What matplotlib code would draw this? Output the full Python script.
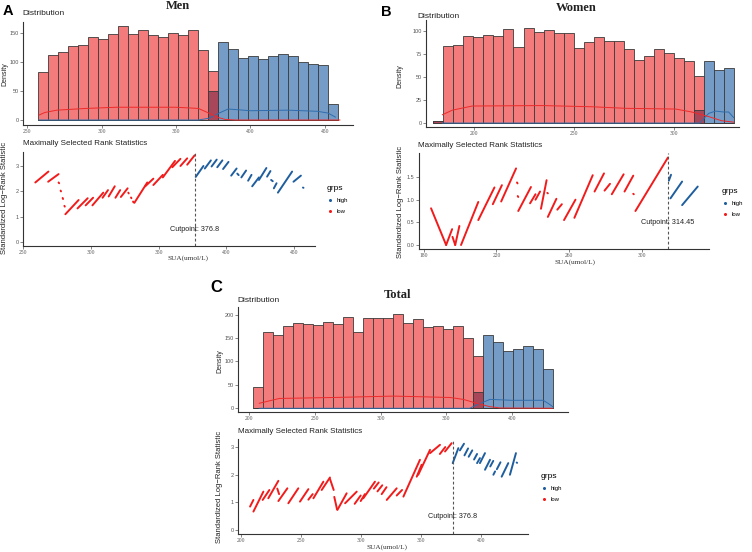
import numpy as np
import matplotlib
matplotlib.use("Agg")
import matplotlib.pyplot as plt
from matplotlib.lines import Line2D

# ---------------- data ----------------
# histograms: 30 bins each (start, width), counts for the low / high groups
men_bin_start, men_bin_width = 257.1, 6.73
men_low = [83, 112, 118, 127, 129, 143, 140, 148, 162, 149, 156, 146, 143, 150, 147,
           155, 120, 84, 0, 0, 0, 0, 0, 0, 0, 0, 0, 0, 0, 0]
men_high = [0, 0, 0, 0, 0, 0, 0, 0, 0, 0, 0, 0, 0, 0, 0,
            0, 0, 50, 134, 122, 107, 111, 106, 111, 113, 111, 100, 96, 95, 28]

women_bin_start, women_bin_width = 179.5, 5.02
women_low = [2, 84, 85, 95, 93, 96, 95, 102, 83, 103, 99, 101, 98, 98, 82,
             88, 94, 89, 89, 81, 69, 73, 80, 76, 71, 67, 51, 0, 0, 0]
women_high = [2, 0, 0, 0, 0, 0, 0, 0, 0, 0, 0, 0, 0, 0, 0,
              0, 0, 0, 0, 0, 0, 0, 0, 0, 0, 0, 14, 67, 58, 60]

total_bin_start, total_bin_width = 202.5, 7.63
total_low = [46, 162, 156, 176, 182, 180, 178, 184, 180, 195, 162, 192, 192, 192, 201,
             182, 190, 174, 175, 169, 176, 149, 111, 0, 0, 0, 0, 0, 0, 0]
total_high = [0, 0, 0, 0, 0, 0, 0, 0, 0, 0, 0, 0, 0, 0, 0,
              0, 0, 0, 0, 0, 0, 0, 35, 156, 141, 122, 126, 132, 127, 84]

# density curves (x, y)
men_dens_low_x = [258, 262, 270, 290, 310, 330, 350, 365, 372, 378, 383, 390, 460]
men_dens_low_y = [8.5, 13, 17, 20, 22, 22, 22, 20, 12, 4.6, 1, 0, 0]
men_dens_high_x = [258, 365, 372, 379, 385, 400, 425, 445, 452, 457]
men_dens_high_y = [0, 0, 3, 12, 19, 16, 17, 15, 12, 5]

women_dens_low_x = [184, 189, 199, 234, 259, 276, 301, 309, 317.5, 324, 330]
women_dens_low_y = [9, 14, 18.5, 19, 17.7, 16, 15.2, 12, 7, 2.5, 1]
women_dens_high_x = [184, 313, 317.5, 321, 325, 327.5, 330]
women_dens_high_y = [0, 0, 10.5, 13, 12, 12, 6]

total_dens_low_x = [207.6, 223, 264, 310, 353, 363, 373, 383, 391, 431]
total_dens_low_y = [10.7, 21, 23, 26, 23, 19, 11, 3.6, 0.7, 0]
total_dens_high_x = [207.6, 368, 374, 383.5, 400, 424, 428, 431.5]
total_dens_high_y = [0, 0, 8, 19, 17, 17, 10, 3]

# maximally selected rank statistics: runs of points (x0, x1, y0, y1)
men_low_runs = [(258.8, 268.5, 2.35, 2.78), (268.3, 276.0, 2.38, 2.68), (276.0, 276.4, 2.35, 2.32),
                (277.5, 277.8, 2.03, 2.00), (279.0, 279.3, 1.74, 1.70), (280.3, 280.6, 1.43, 1.40),
                (281.0, 290.8, 1.10, 1.66), (290.0, 297.5, 1.33, 1.73), (296.0, 301.5, 1.45, 1.75),
                (301.0, 309.0, 1.45, 1.95), (308.5, 312.5, 1.75, 2.05), (313.0, 317.5, 1.80, 2.20),
                (318.0, 321.5, 1.75, 2.05), (322.0, 327.0, 1.78, 2.12), (327.5, 327.8, 1.95, 1.92),
                (329.5, 329.8, 1.76, 1.73), (331.0, 331.3, 1.60, 1.57), (332.0, 341.5, 1.55, 2.35),
                (340.0, 346.0, 2.20, 2.50), (346.0, 353.0, 2.25, 2.65), (353.0, 362.0, 2.55, 3.20),
                (360.0, 366.0, 2.95, 3.28), (366.0, 371.0, 3.00, 3.30), (371.0, 376.5, 3.05, 3.42)]
men_high_runs = [(377.3, 383.0, 2.57, 3.00), (384.0, 388.5, 2.90, 3.22), (389.0, 392.8, 2.98, 3.25),
                 (393.2, 397.0, 2.95, 3.22), (397.5, 401.5, 2.88, 3.16), (403.5, 407.5, 2.62, 2.90),
                 (408.0, 409.0, 2.70, 2.64), (411.0, 414.5, 2.55, 2.82), (416.0, 418.5, 2.42, 2.65),
                 (419.0, 424.0, 2.20, 2.55), (424.0, 429.5, 2.45, 2.92), (430.0, 432.5, 2.58, 2.80),
                 (433.0, 434.2, 2.45, 2.40), (435.0, 437.0, 2.12, 2.32), (438.0, 448.5, 1.95, 2.78),
                 (449.5, 455.0, 2.38, 2.62), (456.5, 456.9, 2.15, 2.14)]

women_low_runs = [(184.0, 192.3, 0.81, 0.00), (192.3, 195.6, 0.00, 0.35), (195.8, 197.3, 0.18, 0.00),
                  (197.3, 199.6, 0.00, 0.42), (200.5, 210.0, 0.00, 0.95), (210.0, 218.9, 0.55, 1.27),
                  (218.0, 223.0, 0.90, 1.32), (222.6, 230.8, 0.96, 1.69), (231.3, 231.6, 1.38, 1.36),
                  (231.7, 232.0, 1.08, 1.06), (232.0, 239.0, 0.75, 1.28), (238.5, 241.5, 0.92, 1.12),
                  (241.5, 244.0, 1.00, 1.18), (244.5, 247.6, 0.80, 1.43), (248.0, 248.3, 1.15, 1.14),
                  (248.3, 253.0, 0.62, 1.02), (253.5, 256.0, 0.78, 0.90), (257.2, 263.5, 0.55, 1.00),
                  (262.9, 273.0, 0.60, 1.54), (274.0, 279.2, 1.18, 1.58), (279.5, 282.5, 1.20, 1.35),
                  (283.5, 290.0, 1.12, 1.56), (290.5, 295.3, 1.18, 1.53), (295.3, 295.6, 1.13, 1.12),
                  (296.5, 314.4, 0.75, 1.93)]
women_high_runs = [(314.9, 316.1, 1.42, 1.55), (315.8, 322.2, 1.03, 1.40), (322.2, 330.8, 0.88, 1.29)]

total_low_runs = [(207.8, 210.6, 0.85, 1.09), (210.6, 218.9, 0.67, 1.39), (218.3, 223.9, 1.09, 1.45),
                  (223.0, 231.4, 1.15, 1.78), (230.5, 232.0, 1.50, 1.30), (231.4, 238.9, 1.05, 1.51),
                  (239.7, 248.0, 0.97, 1.51), (249.4, 256.4, 1.03, 1.48), (256.4, 260.0, 1.10, 1.30),
                  (260.6, 268.9, 1.15, 1.75), (267.5, 274.4, 1.45, 1.90), (274.4, 277.5, 1.85, 1.45),
                  (278.0, 280.3, 1.20, 0.75), (280.6, 288.3, 0.73, 1.33), (287.0, 296.7, 0.97, 1.39),
                  (295.0, 300.0, 0.95, 1.25), (300.0, 303.5, 1.05, 1.30), (302.2, 311.9, 1.15, 1.75),
                  (311.0, 315.0, 1.50, 1.72), (314.0, 318.0, 1.40, 1.62), (317.5, 321.5, 1.30, 1.55),
                  (321.7, 330.0, 1.09, 1.51), (330.0, 334.5, 1.25, 1.45), (335.6, 349.4, 1.21, 2.54),
                  (346.7, 350.8, 1.93, 2.36), (348.0, 357.8, 2.00, 2.90), (357.8, 366.1, 2.78, 3.08),
                  (366.0, 370.5, 2.75, 3.00), (370.3, 375.8, 2.84, 3.14)]
total_high_runs = [(376.7, 381.4, 2.42, 2.96), (382.7, 386.1, 2.88, 3.12), (386.5, 389.5, 2.70, 2.95),
                   (390.0, 393.0, 2.65, 2.88), (394.5, 397.0, 2.55, 2.75), (397.0, 399.4, 2.42, 2.60),
                   (399.4, 403.6, 2.42, 2.78), (403.6, 407.8, 2.18, 2.54), (408.0, 410.5, 2.30, 2.50),
                   (410.6, 412.0, 2.00, 2.12), (413.5, 416.5, 2.20, 2.45), (417.5, 423.0, 1.93, 2.42),
                   (424.4, 429.4, 2.00, 2.78), (430.0, 430.4, 2.44, 2.43)]

cutpoints = {"men": 376.8, "women": 314.45, "total": 376.8}

# ---------------- style ----------------
W, H = 752, 552
SANS = "Liberation Sans"
SERIF = "Liberation Serif"
RED_FILL, BLUE_FILL, MIX_FILL = "#F37B7B", "#759CC6", "#A8465A"
EDGE = "#3a3a3a"
RED_LINE, BLUE_LINE = "#EE2A2A", "#2F6DAD"
RED_PT, BLUE_PT = "#F21B1B", "#1F5E9E"

fig = plt.figure(figsize=(W / 100, H / 100), dpi=100)


def px_axes(l, t, r, b):
    return fig.add_axes([l / W, 1 - b / H, (r - l) / W, (b - t) / H])


def ftext(x, y, s, **kw):
    fig.text(x / W, 1 - y / H, s, **kw)


def style_axes(ax, xticks, yticks, yfmt="{:g}"):
    for s in ["top", "right"]:
        ax.spines[s].set_visible(False)
    for s in ["left", "bottom"]:
        ax.spines[s].set_color("#333333")
        ax.spines[s].set_linewidth(0.8)
    ax.set_xticks(xticks)
    ax.set_yticks(yticks)
    ax.set_yticklabels([yfmt.format(v) for v in yticks])
    ax.tick_params(length=2, width=0.5, colors="#555555", labelsize=4, pad=1)
    for lab in ax.get_xticklabels():
        lab.set_fontfamily(SERIF)
    for lab in ax.get_yticklabels():
        lab.set_fontfamily(SANS)


def hist_panel(box, start, width, low, high, dlow, dhigh, xlim, ylim, xticks, yticks):
    ax = px_axes(*box)
    low = np.array(low)
    high = np.array(high)
    left = start + width * np.arange(len(low))
    ax.bar(left, high, width, align="edge", color=BLUE_FILL, edgecolor=EDGE, lw=0.6)
    ax.bar(left, low, width, align="edge", color=RED_FILL, edgecolor=EDGE, lw=0.6)
    ax.bar(left, np.minimum(low, high), width, align="edge", color=MIX_FILL, edgecolor=EDGE, lw=0.6)
    ax.plot(dhigh[0], dhigh[1], color=BLUE_LINE, lw=0.7)
    ax.plot(dlow[0], dlow[1], color=RED_LINE, lw=0.7)
    ax.set_xlim(*xlim)
    ax.set_ylim(*ylim)
    style_axes(ax, xticks, yticks)
    return ax


def rank_panel(box, low_runs, high_runs, cut, xlim, ylim, xticks, yticks, yfmt, legend_xy):
    ax = px_axes(*box)
    for x0, x1, y0, y1 in low_runs:
        ax.plot([x0, x1], [y0, y1], color=RED_PT, lw=1.4, solid_capstyle="round")
    for x0, x1, y0, y1 in high_runs:
        ax.plot([x0, x1], [y0, y1], color=BLUE_PT, lw=1.4, solid_capstyle="round")
    ax.axvline(cut, color="#555555", lw=0.8, ls=(0, (2.5, 2)))
    ax.text(cut, 0.5, f"Cutpoint: {cut:g}", ha="center", va="center",
            fontsize=5.2, family=SANS, color="#222222")
    ax.set_xlim(*xlim)
    ax.set_ylim(*ylim)
    style_axes(ax, xticks, yticks, yfmt)
    handles = [Line2D([], [], ls="", marker="o", ms=1.2, color=BLUE_PT),
               Line2D([], [], ls="", marker="o", ms=1.2, color=RED_PT)]
    leg = ax.legend(handles, ["high", "low"], title="grps", loc="upper left",
                    bbox_to_anchor=(legend_xy[0] / W, 1 - legend_xy[1] / H),
                    bbox_transform=fig.transFigure, frameon=False,
                    prop={"family": SANS, "size": 4.3}, handlelength=1.0,
                    handletextpad=0.6, labelspacing=1.0, borderpad=0, alignment="left")
    leg.get_title().set_fontsize(6)
    leg.get_title().set_family(SANS)
    return ax


# ---------------- panel A: Men ----------------
hist_panel((23, 22, 353, 125), men_bin_start, men_bin_width, men_low, men_high,
           (men_dens_low_x, men_dens_low_y), (men_dens_high_x, men_dens_high_y),
           (247.3, 468.8), (-8.6, 169), [250, 300, 350, 400, 450], [0, 50, 100, 150])
rank_panel((22.7, 152, 315, 246), men_low_runs, men_high_runs, cutpoints["men"],
           (249.5, 465.4), (-0.15, 3.55), [250, 300, 350, 400, 450], [0, 1, 2, 3], "{:g}",
           (324, 182))

# ---------------- panel B: Women ----------------
hist_panel((426, 20, 739, 127), women_bin_start, women_bin_width, women_low, women_high,
           (women_dens_low_x, women_dens_low_y), (women_dens_high_x, women_dens_high_y),
           (175.8, 332.7), (-4.3, 112), [200, 250, 300], [0, 25, 50, 75, 100])
rank_panel((418.7, 153, 709, 249), women_low_runs, women_high_runs, cutpoints["women"],
           (177.2, 337), (-0.088, 2.03), [180, 220, 260, 300], [0, 0.5, 1.0, 1.5], "{:.1f}",
           (719, 185))

# ---------------- panel C: Total ----------------
hist_panel((238.3, 307, 568, 411.7), total_bin_start, total_bin_width, total_low, total_high,
           (total_dens_low_x, total_dens_low_y), (total_dens_high_x, total_dens_high_y),
           (191.6, 442.9), (-7.3, 216), [200, 250, 300, 350, 400], [0, 50, 100, 150, 200])
rank_panel((237.7, 439.3, 528.3, 534), total_low_runs, total_high_runs, cutpoints["total"],
           (197.5, 439.7), (-0.14, 3.28), [200, 250, 300, 350, 400], [0, 1, 2, 3], "{:g}",
           (538, 470))

# ---------------- labels ----------------
for x, y, s, size in [(3, 11, "A", 10.5), (381, 12, "B", 10.5), (210, 288, "C", 12)]:
    ftext(x, y, s, fontsize=size, fontweight="bold", family=SANS, va="center", ha="left")

for x, y, s in [(178, 6, "Men"), (576, 8, "Women"), (397.7, 295, "Total")]:
    ftext(x, y, s, fontsize=9, fontweight="bold", family=SERIF, va="center", ha="center",
          color="#222222")

for x, y in [(22.7, 13.5), (417.7, 16), (237.7, 301)]:
    ftext(x, y, "Distribution", fontsize=6, family=SANS, va="center", ha="left", color="#222222")

for x, y in [(5, 74), (399.7, 76), (219.7, 361)]:
    ftext(x, y, "Density", fontsize=5, family=SANS, va="center", ha="center",
          rotation=90, color="#222222")

for x, y in [(22.7, 143.3), (417.7, 145.7), (237.7, 431.7)]:
    ftext(x, y, "Maximally Selected Rank Statistics", fontsize=5.8, family=SANS,
          va="center", ha="left", color="#222222")

for x, y in [(4.5, 198), (400, 202), (219.7, 487)]:
    ftext(x, y, "Standardized Log\u2212Rank Statistic", fontsize=5.5, family=SANS,
          va="center", ha="center", rotation=90, color="#222222")

for x, y in [(188.3, 258.5), (575, 262), (387.3, 547)]:
    ftext(x, y, "SUA(umol/L)", fontsize=5.2, family=SERIF, va="center", ha="center",
          color="#333333")

fig.savefig("out.png", dpi=100)
